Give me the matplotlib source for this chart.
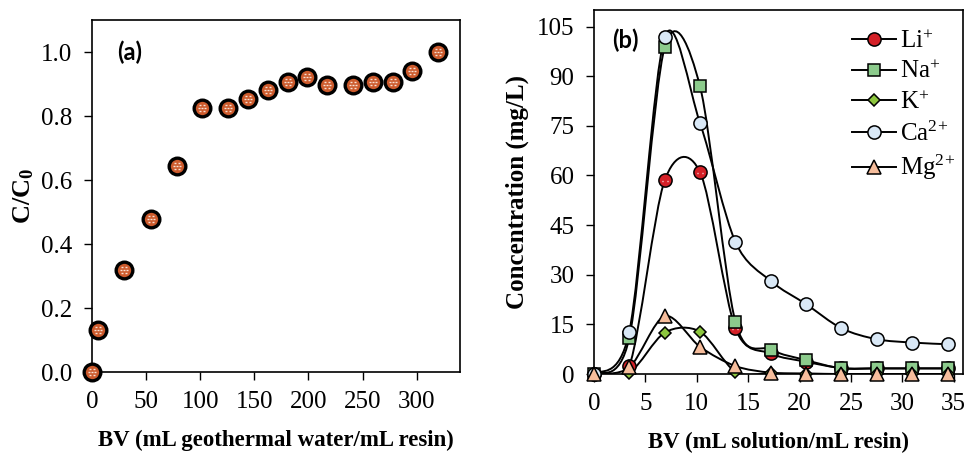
import numpy as np
import matplotlib
matplotlib.use("Agg")
import matplotlib.pyplot as plt
from matplotlib.path import Path
from matplotlib.patches import PathPatch

plt.rcParams['font.family'] = 'Liberation Serif'
plt.rcParams['mathtext.fontset'] = 'custom'
plt.rcParams['mathtext.rm'] = 'Liberation Serif'
plt.rcParams['mathtext.it'] = 'Liberation Serif:italic'
plt.rcParams['mathtext.bf'] = 'Liberation Serif:bold'

# panel (a) data
bv_a = [0, 5.5, 30, 55, 78.5, 102, 126, 144.5, 163, 181, 199, 217.5, 241.5, 260, 278, 296, 320]
c_c0 = [0.0, 0.13, 0.32, 0.478, 0.643, 0.825, 0.825, 0.854, 0.88, 0.906, 0.922, 0.896,
        0.896, 0.906, 0.906, 0.94, 1.0]

# panel (b) data
bv_b = [0, 3.44, 6.88, 10.32, 13.76, 17.2, 20.64, 24.08, 27.52, 30.96, 34.4]
li = [0, 2.4, 58.5, 61.0, 13.8, 6.2, 3.7, 1.8, 1.7, 1.7, 1.7]
na = [0, 11.0, 98.8, 86.9, 15.8, 7.4, 4.2, 1.7, 1.7, 1.7, 1.7]
k = [0, 0.4, 12.5, 12.8, 0.7, 0.2, 0.1, 0.0, 0.0, 0.0, 0.0]
ca = [0, 12.8, 101.8, 75.8, 39.9, 28.1, 21.1, 13.8, 10.5, 9.5, 9.0]
mg = [0, 2.0, 17.5, 8.2, 2.4, 0.4, 0.1, 0.0, 0.0, 0.0, 0.0]
ions = ['Li$^{+}$', 'Na$^{+}$', 'K$^{+}$', 'Ca$^{2\\!+}$', 'Mg$^{2\\!+}$']


def smooth_path(x, y, f=1/6):
    # Excel-like smoothed line: Catmull-Rom converted to cubic Bezier
    p = np.column_stack([x, y]).astype(float)
    n = len(p)
    verts = [p[0]]
    codes = [Path.MOVETO]
    for i in range(n - 1):
        p0 = p[i - 1] if i > 0 else p[i]
        p3 = p[i + 2] if i + 2 < n else p[i + 1]
        c1 = p[i] + (p[i + 1] - p0) * f
        c2 = p[i + 1] - (p3 - p[i]) * f
        verts += [c1, c2, p[i + 1]]
        codes += [Path.CURVE4] * 3
    return Path(verts, codes)


def pattern(kind):
    # small white texture drawn over the markers
    segs = []
    if kind == 'dash':
        for yy, xs in [(-0.5, [-0.3, 0.3]), (0.0, [-0.6, 0.0, 0.6]), (0.5, [-0.3, 0.3])]:
            for xx in xs:
                segs.append([(xx - 0.17, yy), (xx + 0.17, yy)])
    else:
        for yy, xs in [(-0.6, [-0.25, 0.25]), (-0.2, [-0.5, 0.0, 0.5]),
                       (0.2, [-0.25, 0.25]), (0.6, [-0.4, 0.0, 0.4])]:
            for xx in xs:
                segs.append([(xx - 0.05, yy), (xx + 0.05, yy)])
    verts, codes = [], []
    for a, b in segs:
        verts += [a, b]
        codes += [Path.MOVETO, Path.LINETO]
    verts += [(-1, -1), (1, 1)]
    codes += [Path.MOVETO, Path.MOVETO]
    return Path(verts, codes)


fig = plt.figure(figsize=(9.68, 4.55), dpi=100)
ax1 = fig.add_axes([0.095, 0.1824, 0.3802, 0.7736])
ax2 = fig.add_axes([0.6136, 0.178, 0.3812, 0.80])

# ---- panel (a)
ax1.plot(bv_a, c_c0, 'o', ms=12, mfc='#cc5a2c', mec='black', mew=2.4, clip_on=False, zorder=3)
ax1.plot(bv_a, c_c0, ls='none', marker=pattern('dash'), ms=8, mec='#f8e0d4', mew=1.0,
         clip_on=False, zorder=4)
ax1.set_xlim(0, 340)
ax1.set_ylim(0, 1.1)
ax1.set_xticks(range(0, 301, 50))
ax1.set_yticks(np.arange(0, 1.01, 0.2))
ax1.set_yticklabels([f'{v:.1f}' for v in np.arange(0, 1.01, 0.2)])
ax1.set_ylabel('$\\mathbf{C/C_0}$', fontsize=19, labelpad=4)
ax1.set_xlabel('BV (mL geothermal water/mL resin)', fontsize=16.5, fontweight='bold', labelpad=12)
ax1.text(0.068, 0.909, '(a)', transform=ax1.transAxes, fontsize=17, fontweight='bold',
         family='Lato', va='center', ha='left')

# ---- panel (b)
series = [li, na, k, ca, mg]
styles = [
    dict(marker='o', ms=9.5, mfc='#d42027'),
    dict(marker='s', ms=9, mfc='#8ccb8c'),
    dict(marker='D', ms=6.5, mfc='#8dc63f'),
    dict(marker='o', ms=9.5, mfc='#d9e8f6'),
    dict(marker='^', ms=10, mfc='#f6bd9c'),
]
for vals, st, lab in zip(series, styles, ions):
    ax2.add_patch(PathPatch(smooth_path(bv_b, vals, 0.15), fill=False, lw=1.4, ec='black', zorder=2))
    ax2.plot(bv_b, vals, ls='none', marker=st['marker'], ms=st['ms'],
             mfc=st['mfc'], mec='black', mew=1.1, clip_on=False, zorder=3)
    if st['mfc'] == '#d42027':
        ax2.plot(bv_b, vals, ls='none', marker=pattern('dot'), ms=7, mec='white', mew=1.0,
                 clip_on=False, zorder=3)

ax2.set_xlim(0, 35.9)
ax2.set_ylim(0, 110)
ax2.set_xticks(range(0, 36, 5))
ax2.set_yticks(range(0, 106, 15))
ax2.set_ylabel('Concentration (mg/L)', fontsize=18, fontweight='bold', labelpad=6)
ax2.set_xlabel('BV (mL solution/mL resin)', fontsize=16.5, fontweight='bold', labelpad=12)
ax2.text(0.049, 0.918, '(b)', transform=ax2.transAxes, fontsize=17, fontweight='bold',
         family='Lato', va='center', ha='left')

leg_handles = []
for st, lab in zip(styles, ions):
    lh, = ax2.plot([], [], ls='-', lw=1.4, color='black', marker=st['marker'], ms=st['ms'],
                   mfc=st['mfc'], mec='black', mew=1.1, label=lab)
    leg_handles.append(lh)
ax2.legend(handles=leg_handles, loc='upper left', bbox_to_anchor=(0.70, 0.945), frameon=False,
           fontsize=18, handlelength=1.75, handletextpad=0.15, labelspacing=0.3, borderpad=0,
           borderaxespad=0)

for ax in (ax1, ax2):
    ax.tick_params(direction='out', length=6, width=1, labelsize=18, pad=8)
    for sp in ax.spines.values():
        sp.set_linewidth(1.2)

fig.savefig('out.png', dpi=100)
